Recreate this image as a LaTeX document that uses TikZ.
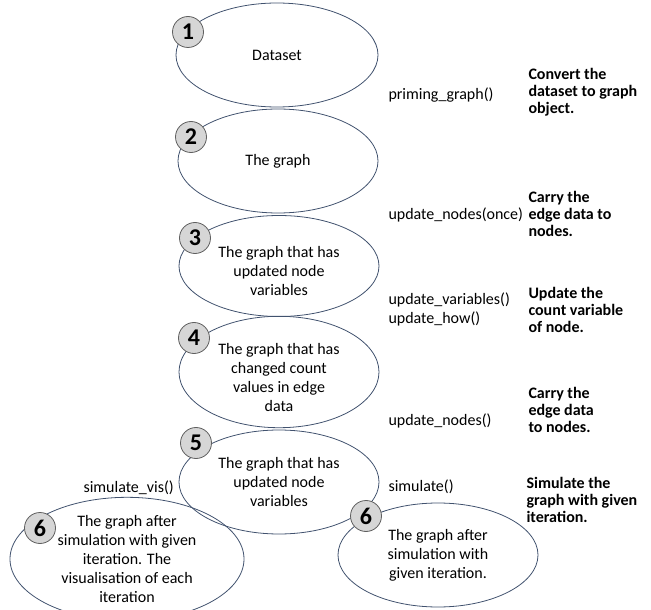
\documentclass[tikz,border=0pt]{standalone}
\usepackage{fontspec}
\setmainfont{Carlito}
\usetikzlibrary{shapes.geometric}
\definecolor{rimblue}{RGB}{65,82,110}
\definecolor{discgray}{RGB}{214,214,214}
\definecolor{discrim}{RGB}{95,95,95}
\tikzset{every picture/.style={line width=0.75pt}}
\tikzset{
  stage/.style={ellipse, draw=rimblue, line width=0.6pt, inner sep=0pt, align=center,
    minimum width=200*0.75pt, minimum height=104*0.75pt,
    font=\fontsize{12}{14.25}\selectfont},
  numdisc/.style={circle, draw=discrim, fill=discgray, line width=0.6pt, inner sep=0pt,
    minimum size=31*0.75pt, font=\fontsize{18}{18}\selectfont\bfseries},
  fnlabel/.style={anchor=west, inner sep=0.75pt, align=left,
    font=\fontsize{12}{14.25}\selectfont},
  notelabel/.style={anchor=west, inner sep=0.75pt, align=left,
    font=\fontsize{12}{12.75}\selectfont\bfseries}
}

\begin{document}
\begin{tikzpicture}[x=0.75pt,y=0.75pt,yscale=-1,xscale=1]
\useasboundingbox (0,0) rectangle (651,610);

%Shape: Ellipse 
\node[stage, minimum width=202*0.75pt] (ds) at (277,55) {Dataset};
%Shape: Ellipse 
\node[stage] (gr) at (278,161) {The graph};
%Shape: Ellipse 
\node[stage, minimum height=101*0.75pt] (upd) at (279,266) {\\[2pt]The graph that has\\updated node\\variables};
%Shape: Ellipse 
\node[stage] (cnt) at (279,372) {\\[2pt]The graph that has\\changed count\\values in edge\\data};
%Shape: Ellipse 
\node[stage] (upd2) at (279,482) {The graph that has\\updated node\\variables};
%Shape: Ellipse 
\node[stage, minimum width=234*0.75pt, minimum height=102*0.75pt] (simvis) at (127,559) {The graph after\\simulation with given\\iteration. The\\visualisation of each\\iteration};
%Shape: Ellipse 
\node[stage] (sim) at (438,555) {The graph after\\simulation with\\given iteration.};

%Shape: Circle 
\node[numdisc] (n1) at (188,32) {1};
\node[numdisc] (n2) at (191,137) {2};
\node[numdisc] (n3) at (195,238) {3};
\node[numdisc] (n4) at (194,338) {4};
\node[numdisc] (n5) at (196,443) {5};
\node[numdisc] (n6a) at (40,528) {6};
\node[numdisc] (n6b) at (366,516) {6};

% Text Node
\node[fnlabel] (f1) at (387,95) {priming\_graph()};
% Text Node
\node[fnlabel] (f2) at (387,215) {update\_nodes(once)};
% Text Node
\node[fnlabel] (f3) at (387,309.5) {update\_variables()\\update\_how()};
% Text Node
\node[fnlabel] (f4) at (387,421) {update\_nodes()};
% Text Node
\node[fnlabel] (f5) at (387,487) {simulate()};
% Text Node
\node[fnlabel] (f6) at (82,488) {simulate\_vis()};

% Text Node
\node[notelabel] (d1) at (527,92) {Convert the\\dataset to graph\\object.};
% Text Node
\node[notelabel] (d2) at (527,214) {Carry the\\edge data to\\nodes.};
% Text Node
\node[notelabel] (d3) at (527,310) {Update the\\count variable\\of node.};
% Text Node
\node[notelabel] (d4) at (527,410) {Carry the\\edge data\\to nodes.};
% Text Node
\node[notelabel] (d5) at (525,500) {Simulate the\\graph with given\\iteration.};

\end{tikzpicture}
\end{document}
